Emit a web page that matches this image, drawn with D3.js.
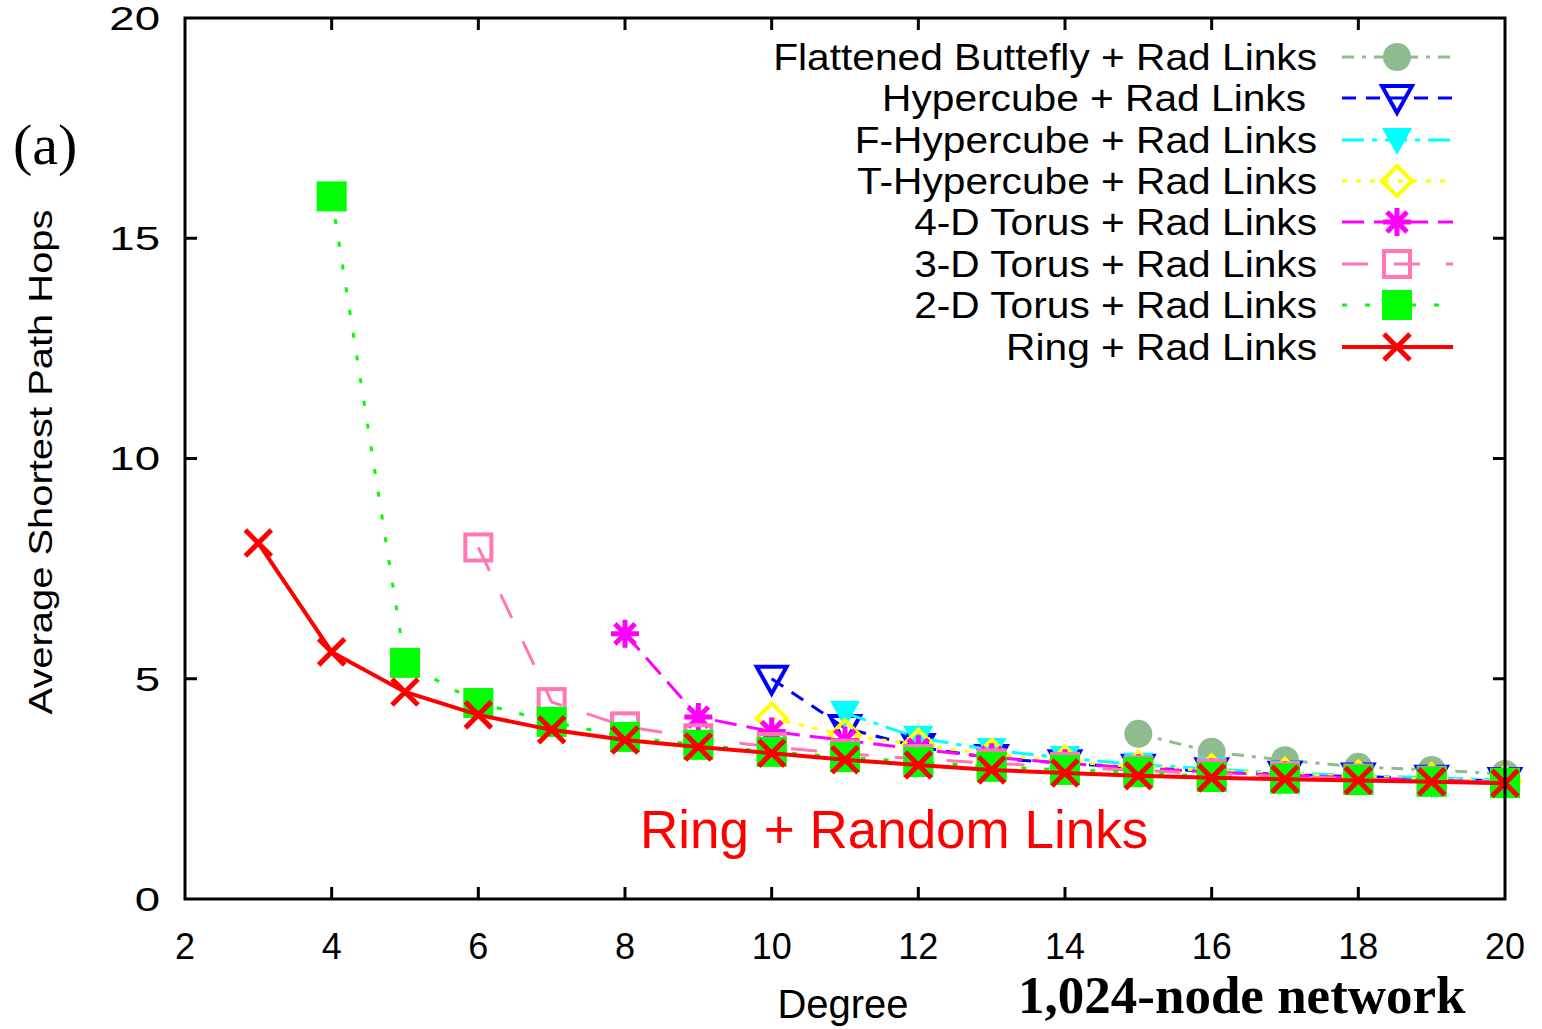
<!DOCTYPE html>
<html><head><meta charset="utf-8">
<script src="https://cdn.jsdelivr.net/npm/d3@7"></script>
<style>body{margin:0;background:#fff}svg{display:block}</style>
</head><body>
<svg id="c" width="1542" height="1029"></svg>
<script>
// ---- data ----
const xTicks = [2,4,6,8,10,12,14,16,18,20];
const yTicks = [0,5,10,15,20];
const seriesNames = ["Flattened Buttefly + Rad Links","Hypercube + Rad Links","F-Hypercube + Rad Links","T-Hypercube + Rad Links","4-D Torus + Rad Links","3-D Torus + Rad Links","2-D Torus + Rad Links","Ring + Rad Links"];
const fbX = [15,16,17,18,19,20];
const fbY = [3.75,3.34,3.15,3.0,2.93,2.84];
const hcX = [10,11,12,13,14,15,16,17,18,19,20];
const hcY = [5.0,3.88,3.45,3.2,3.08,2.98,2.9,2.82,2.78,2.73,2.68];
const fhX = [11,12,13,14,15,16,17,18,19,20];
const fhY = [4.22,3.66,3.38,3.2,3.05,2.95,2.86,2.8,2.75,2.7];
const thX = [10,11,12,13,14,15,16,17,18,19,20];
const thY = [4.1,3.72,3.5,3.28,3.12,3.0,2.92,2.84,2.78,2.72,2.67];
const t4X = [8,9,10,11,12,13,14,15,16,17,18,19,20];
const t4Y = [6.02,4.13,3.8,3.6,3.4,3.22,3.08,2.97,2.88,2.81,2.75,2.7,2.65];
const t3X = [6,7,8,9,10,11,12,13,14,15,16,17,18,19,20];
const t3Y = [7.98,4.47,3.92,3.65,3.45,3.3,3.18,3.08,3.0,2.92,2.85,2.78,2.73,2.68,2.64];
const t2X = [4,5,6,7,8,9,10,11,12,13,14,15,16,17,18,19,20];
const t2Y = [15.95,5.36,4.45,4.02,3.68,3.5,3.34,3.22,3.11,3.0,2.93,2.88,2.77,2.73,2.7,2.66,2.63];
const ringX = [3,4,5,6,7,8,9,10,11,12,13,14,15,16,17,18,19,20];
const ringY = [8.08,5.61,4.70,4.18,3.84,3.61,3.45,3.31,3.16,3.04,2.93,2.86,2.8,2.75,2.72,2.69,2.66,2.63];

// ---- styles ----
const styles = [
  {color:"#8fbc8f", dash:"12,8,4,8", mk:"circle", w:3},
  {color:"#0000ff", dash:"14,10", mk:"triOpen", w:3},
  {color:"#00ffff", dash:"22,8,5,8", mk:"triFill", w:3},
  {color:"#ffff00", dash:"5,9", mk:"diamond", w:3},
  {color:"#ff00ff", dash:"22,10", mk:"star", w:3},
  {color:"#ff77b4", dash:"26,26", mk:"sqOpen", w:3},
  {color:"#00ff00", dash:"5,18", mk:"sqFill", w:3},
  {color:"#ff0000", dash:null, mk:"cross", w:4}
];
const data = [[fbX,fbY],[hcX,hcY],[fhX,fhY],[thX,thY],[t4X,t4Y],[t3X,t3Y],[t2X,t2Y],[ringX,ringY]];

const svg = d3.select("#c");
const L=185,R=1505,T=18,B=899;
const x = d3.scaleLinear().domain([2,20]).range([L,R]);
const y = d3.scaleLinear().domain([0,20]).range([B,T]);
const F = "'Liberation Sans', Arial, Helvetica, sans-serif";
const SERIF = "'Liberation Serif','Times New Roman',serif";

function marker(g, type, color, cx, cy){
  const s = 15;
  if(type==="circle"){
    g.append("circle").attr("cx",cx).attr("cy",cy).attr("r",14).attr("fill",color);
  } else if(type==="triOpen"||type==="triFill"){
    const p = `M${cx-s},${cy-s+3}L${cx+s},${cy-s+3}L${cx},${cy+s}Z`;
    const e = g.append("path").attr("d",p);
    if(type==="triFill") e.attr("fill",color);
    else e.attr("fill","none").attr("stroke",color).attr("stroke-width",4);
  } else if(type==="diamond"){
    g.append("path").attr("d",`M${cx},${cy-s}L${cx+s},${cy}L${cx},${cy+s}L${cx-s},${cy}Z`)
      .attr("fill","none").attr("stroke",color).attr("stroke-width",4);
  } else if(type==="star"){
    const r=14;
    g.append("path").attr("d",`M${cx-r},${cy}L${cx+r},${cy}M${cx},${cy-r}L${cx},${cy+r}M${cx-r*0.72},${cy-r*0.72}L${cx+r*0.72},${cy+r*0.72}M${cx-r*0.72},${cy+r*0.72}L${cx+r*0.72},${cy-r*0.72}`)
      .attr("stroke",color).attr("stroke-width",5).attr("fill","none");
  } else if(type==="sqOpen"){
    g.append("rect").attr("x",cx-s+2).attr("y",cy-s+2).attr("width",2*s-4).attr("height",2*s-4)
      .attr("fill","none").attr("stroke",color).attr("stroke-width",4);
  } else if(type==="sqFill"){
    g.append("rect").attr("x",cx-s).attr("y",cy-s).attr("width",2*s).attr("height",2*s).attr("fill",color);
  } else if(type==="cross"){
    const r=13;
    g.append("path").attr("d",`M${cx-r},${cy-r}L${cx+r},${cy+r}M${cx-r},${cy+r}L${cx+r},${cy-r}`)
      .attr("stroke",color).attr("stroke-width",5).attr("fill","none");
  }
}

// series
const line = d3.line().x(d=>x(d[0])).y(d=>y(d[1]));
data.forEach((d,i)=>{
  const st = styles[i];
  const pts = d[0].map((v,j)=>[v,d[1][j]]);
  const g = svg.append("g");
  const p = g.append("path").datum(pts).attr("d",line).attr("fill","none")
    .attr("stroke",st.color).attr("stroke-width",st.w);
  if(st.dash) p.attr("stroke-dasharray",st.dash);
  pts.forEach(pt=>marker(g, st.mk, st.color, x(pt[0]), y(pt[1])));
});

// frame + ticks
const ax = svg.append("g");
ax.append("rect").attr("x",L).attr("y",T).attr("width",R-L).attr("height",B-T)
  .attr("fill","none").attr("stroke","#000").attr("stroke-width",3);
xTicks.slice(1,-1).forEach(t=>{
  ax.append("line").attr("x1",x(t)).attr("x2",x(t)).attr("y1",B).attr("y2",B-12).attr("stroke","#000").attr("stroke-width",3);
  ax.append("line").attr("x1",x(t)).attr("x2",x(t)).attr("y1",T).attr("y2",T+12).attr("stroke","#000").attr("stroke-width",3);
});
yTicks.slice(1,-1).forEach(t=>{
  ax.append("line").attr("x1",L).attr("x2",L+12).attr("y1",y(t)).attr("y2",y(t)).attr("stroke","#000").attr("stroke-width",3);
  ax.append("line").attr("x1",R).attr("x2",R-12).attr("y1",y(t)).attr("y2",y(t)).attr("stroke","#000").attr("stroke-width",3);
});
xTicks.forEach(t=>{
  ax.append("text").attr("x",x(t)).attr("y",959).attr("text-anchor","middle")
    .attr("font-family",F).attr("font-size",36).text(t);
});
yTicks.forEach(t=>{
  const tx=160, ty=y(t)+12;
  ax.append("text").attr("x",tx).attr("y",ty).attr("text-anchor","end")
    .attr("font-family",F).attr("font-size",33)
    .attr("transform",`translate(${tx},0) scale(1.38,1) translate(${-tx},0)`).text(t);
});
ax.append("text").attr("x",843).attr("y",1018).attr("text-anchor","middle")
  .attr("font-family",F).attr("font-size",40).text("Degree");
ax.append("text").attr("transform","translate(52,462) rotate(-90)").attr("text-anchor","middle")
  .attr("font-family",F).attr("font-size",34).attr("textLength",505).attr("lengthAdjust","spacingAndGlyphs").text("Average Shortest Path Hops");

// legend
const lg = svg.append("g");
const rowY = [57,98,140,181,222,264,305,347];
seriesNames.forEach((n,i)=>{
  const st = styles[i];
  const ry = rowY[i];
  const tx = i===1 ? 1306 : 1317;
  lg.append("text").attr("x",tx).attr("y",ry+13).attr("text-anchor","end")
    .attr("font-family",F).attr("font-size",36)
    .attr("transform",`translate(${tx},0) scale(1.13,1) translate(${-tx},0)`).text(n);
  const p = lg.append("line").attr("x1",1342).attr("x2",1453).attr("y1",ry).attr("y2",ry)
    .attr("stroke",st.color).attr("stroke-width",st.w);
  if(st.dash) p.attr("stroke-dasharray",st.dash);
  marker(lg, st.mk, st.color, 1397, ry);
});

// annotations
svg.append("text").attr("x",13).attr("y",164).attr("font-family",SERIF)
  .attr("font-size",58).text("(a)");
svg.append("text").attr("x",640).attr("y",848).attr("font-family",F).attr("font-size",53).attr("fill","#ff0000").text("Ring + Random Links");
svg.append("text").attr("x",1018).attr("y",1013).attr("font-family",SERIF)
  .attr("font-weight","bold").attr("font-size",53).text("1,024-node network");
</script>
</body></html>
